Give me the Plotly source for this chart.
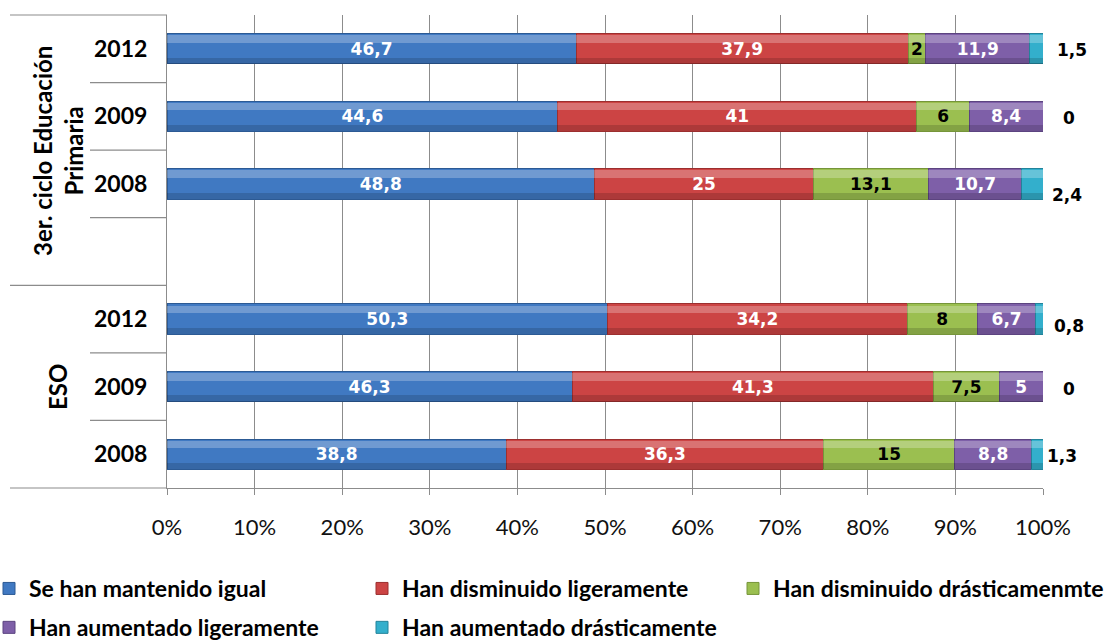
import plotly.graph_objects as go

# --- data -------------------------------------------------------------
groups = ["3er. ciclo Educación<br>Primaria", "ESO"]
years = ["2012", "2009", "2008"]

series_names = [
    "Se han mantenido igual",
    "Han disminuido ligeramente",
    "Han disminuido drásticamenmte",
    "Han aumentado ligeramente",
    "Han aumentado drásticamente",
]

# rows top to bottom: Primaria 2012, 2009, 2008, (gap), ESO 2012, 2009, 2008
igual = [46.7, 44.6, 48.8, None, 50.3, 46.3, 38.8]
dism_ligera = [37.9, 41, 25, None, 34.2, 41.3, 36.3]
dism_drastica = [2, 6, 13.1, None, 8, 7.5, 15]
aum_ligera = [11.9, 8.4, 10.7, None, 6.7, 5, 8.8]
aum_drastica = [1.5, 0, 2.4, None, 0.8, 0, 1.3]

x_ticks = list(range(0, 101, 10))

# --- styling ----------------------------------------------------------
colors = ["#4079c2", "#cc4444", "#9bbf50", "#7e5fa8", "#33afcc"]
edge = ["#2c5a94", "#9c2f2f", "#76953a", "#5c4480", "#23839a"]
label_colors = ["white", "white", "black", "white", None]
FONT = "Lato"
VALUE_FONT = "DejaVu Sans"
W, H = 1109, 641
L, R, T, B = 167, 66, 15, 153
plot_w = W - L - R
plot_h = H - T - B
BAR_W = 0.45          # bar thickness in category units

categories = ["Primaria " + y for y in years] + [" "] + ["ESO " + y for y in years]
tick_text = years + [""] + years


def fmt(v):
    if v is None:
        return ""
    return f"{v:g}".replace(".", ",")


fig = go.Figure()
all_series = [igual, dism_ligera, dism_drastica, aum_ligera, aum_drastica]
legend_ids = ["legend", "legend2", "legend3", "legend", "legend2"]

for i, (name, vals) in enumerate(zip(series_names, all_series)):
    inside = label_colors[i] is not None
    fig.add_trace(go.Bar(
        y=categories,
        x=vals,
        name=name,
        orientation="h",
        marker=dict(color=colors[i], line=dict(color=edge[i], width=1)),
        text=[fmt(v) for v in vals] if inside else None,
        textposition="inside" if inside else "none",
        insidetextanchor="middle",
        constraintext="none",
        textfont=dict(family=VALUE_FONT, size=17, color=label_colors[i] or "black",
                      weight="bold"),
        legend=legend_ids[i],
        legendgroup=name,
        hoverinfo="skip",
    ))

# glossy look: a light band along the top (axis y2) and a dark band along
# the bottom (axis y3) of every segment, each stacked on its own overlaid axis
for vals in all_series:
    fig.add_trace(go.Bar(
        y=categories, x=vals, orientation="h", yaxis="y2",
        width=0.11, offset=-BAR_W / 2 + 0.025,
        marker=dict(color="rgba(255,255,255,0.25)", line=dict(width=0)),
        showlegend=False, hoverinfo="skip",
    ))
for vals in all_series:
    fig.add_trace(go.Bar(
        y=categories, x=vals, orientation="h", yaxis="y3",
        width=0.09, offset=BAR_W / 2 - 0.095,
        marker=dict(color="rgba(0,0,0,0.15)", line=dict(width=0)),
        showlegend=False, hoverinfo="skip",
    ))

# values of the last segment written just right of each bar
x_off = [12, 18, 7, 0, 9, 18, 2]
y_off = [-1, -2, -11, 0, -7, -2, -2]
for cat, v, dx, dy in zip(categories, aum_drastica, x_off, y_off):
    if v is None:
        continue
    fig.add_annotation(
        x=100, y=cat, xref="x", yref="y", text=fmt(v), showarrow=False,
        xanchor="left", yanchor="middle", xshift=dx, yshift=dy,
        font=dict(family=VALUE_FONT, size=17, color="black", weight="bold"),
    )

# group labels, rotated
fig.add_annotation(
    x=(58 - L) / plot_w, y=(H - B - 151) / plot_h, xref="paper", yref="paper",
    text=groups[0], showarrow=False, textangle=-90,
    xanchor="center", yanchor="middle",
    font=dict(family=FONT, size=24, color="black", weight="bold"),
)
fig.add_annotation(
    x=(57 - L) / plot_w, y=(H - B - 387) / plot_h, xref="paper", yref="paper",
    text=groups[1], showarrow=False, textangle=-90,
    xanchor="center", yanchor="middle",
    font=dict(family=FONT, size=24, color="black", weight="bold"),
)

# table lines to the left of the plot
x_far = (10 - L) / plot_w
x_near = (90 - L) / plot_w
for k in range(8):
    x0 = x_far if k in (0, 4, 7) else x_near
    fig.add_shape(type="line", xref="paper", yref="paper",
                  x0=x0, x1=0, y0=1 - k / 7, y1=1 - k / 7,
                  line=dict(color="#8c8c8c", width=1.2))

legend_common = dict(
    orientation="v", yanchor="top", xanchor="left",
    font=dict(family=FONT, size=23, color="black", weight="bold"),
    itemwidth=30, tracegroupgap=6, bgcolor="rgba(0,0,0,0)",
    traceorder="grouped",
)
y_leg = (H - B - 567) / plot_h


def leg_x(px):
    return (px - L) / plot_w


overlay_axis = dict(
    overlaying="y", matches="y", visible=False,
    categoryorder="array", categoryarray=categories,
    autorange="reversed", fixedrange=True, automargin=False,
)

fig.update_layout(
    width=W, height=H,
    margin=dict(l=L, r=R, t=T, b=B, autoexpand=False),
    paper_bgcolor="white", plot_bgcolor="white",
    barmode="stack", barnorm="percent", bargap=1 - BAR_W,
    showlegend=True,
    legend=dict(x=leg_x(-11), y=y_leg, **legend_common),
    legend2=dict(x=leg_x(362), y=y_leg, **legend_common),
    legend3=dict(x=leg_x(733), y=y_leg, **legend_common),
    xaxis=dict(
        range=[0, 100], tickvals=x_ticks, ticktext=[f"{v}%" for v in x_ticks],
        showgrid=True, gridcolor="#8c8c8c", gridwidth=1,
        showline=True, linecolor="#8c8c8c", linewidth=1,
        ticks="outside", ticklen=6, tickcolor="#8c8c8c",
        tickfont=dict(family=FONT, size=22, color="#111"),
        ticklabelstandoff=14, zeroline=False, fixedrange=True,
        automargin=False,
    ),
    yaxis=dict(
        categoryorder="array", categoryarray=categories,
        tickvals=categories, ticktext=tick_text,
        autorange="reversed",
        showline=True, linecolor="#8c8c8c", linewidth=1,
        ticks="", ticklabelstandoff=14,
        tickfont=dict(family=FONT, size=23, color="black", weight="bold"),
        showgrid=False, fixedrange=True, automargin=False,
    ),
    yaxis2=overlay_axis,
    yaxis3=overlay_axis,
)

fig.write_html("out.html")
